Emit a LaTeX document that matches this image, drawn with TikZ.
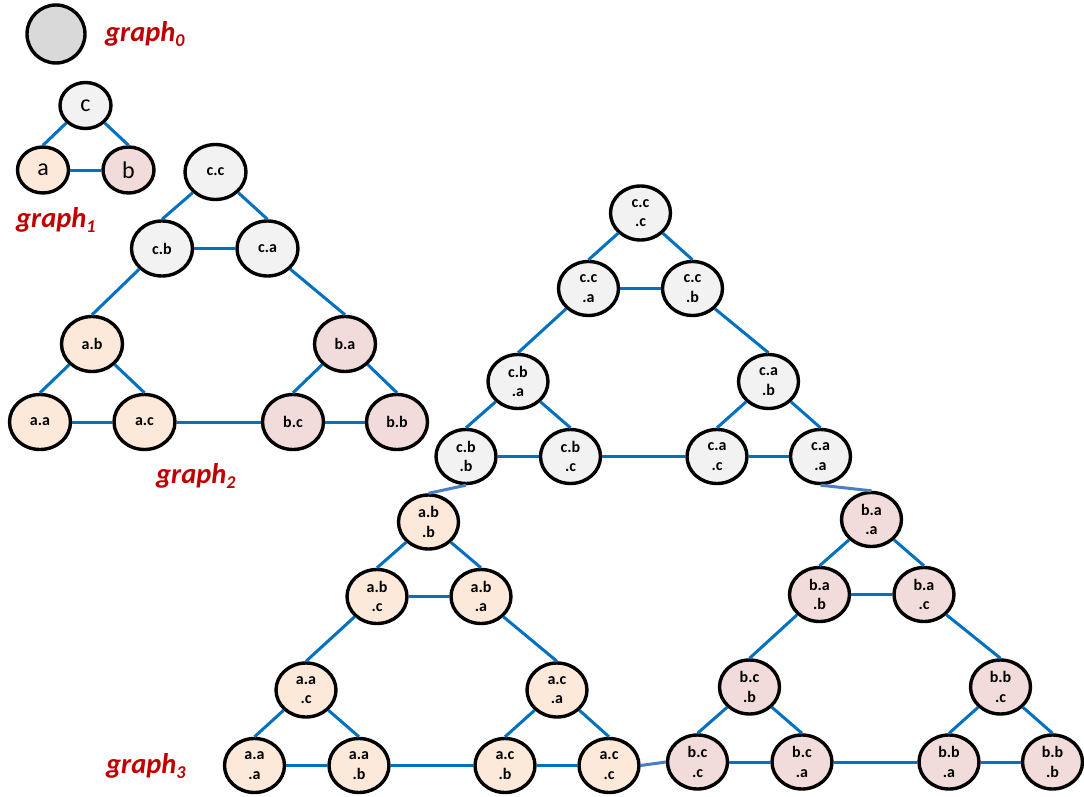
\documentclass[tikz,border=0pt]{standalone}
\usepackage{fontspec}
\setmainfont{Carlito}
\usetikzlibrary{shapes.geometric}
\definecolor{edgeblue}{HTML}{0070C0}
\definecolor{crossblue}{HTML}{4A7EC4}
\definecolor{cfill}{HTML}{F2F2F2}
\definecolor{afill}{HTML}{FDE9D9}
\definecolor{bfill}{HTML}{F2DCDB}
\definecolor{zfill}{HTML}{D9D9D9}
\definecolor{lblred}{HTML}{C00000}
\newcommand\gsub[1]{\raisebox{-5pt}{\fontsize{18}{18}\selectfont #1}}
\begin{document}
\begin{tikzpicture}[x=1pt,y=-1pt,
 vtx/.style={ellipse, draw=black, line width=3.4pt, inner sep=0pt, align=center, font=\fontsize{16}{19.5}\selectfont\bfseries},
 gthree/.style={vtx, minimum width=60pt, minimum height=54pt},
 gtwo/.style={vtx, minimum width=61pt, minimum height=55pt},
 gone/.style={vtx, minimum width=51pt, minimum height=46pt, font=\fontsize{24}{24}\selectfont},
 cN/.style={fill=cfill}, aN/.style={fill=afill}, bN/.style={fill=bfill},
 edge/.style={draw=edgeblue, line width=3pt},
 cross/.style={draw=crossblue, line width=3pt},
 glabel/.style={anchor=base west, inner sep=0pt, text=lblred, font=\fontsize{28.5}{28.5}\selectfont\bfseries\itshape}]
\useasboundingbox (0,0) rectangle (1084,797);

% graph0
\node[circle, draw=black, line width=3.4pt, fill=zfill, minimum size=58pt, inner sep=0pt] (z) at (56,34) {};
\node[glabel] (l0) at (105,42) {graph\gsub{0}};

% graph1
\node[gone,cN] (c) at (85.5,105.5) {c};
\node[gone,aN] (a) at (43,170) {a};
\node[gone,bN] (b) at (128.5,170) {b};
\draw[edge] (c.south west) -- (a.north);
\draw[edge] (c.south east) -- (b.north);
\draw[edge] (a.east) -- (b.west);
\node[glabel] (l1) at (16,227) {graph\gsub{1}};

% graph2
\node[gtwo,cN] (cc) at (215.5,172) {c.c};
\node[gtwo,cN] (cb) at (162,248.5) {c.b};
\node[gtwo,cN] (ca) at (267.5,248.5) {c.a};
\node[gtwo,aN] (ab) at (92,344) {a.b};
\node[gtwo,bN] (ba) at (345,344) {b.a};
\node[gtwo,aN] (aa) at (40,422) {a.a};
\node[gtwo,aN] (ac) at (144.5,422) {a.c};
\node[gtwo,bN] (bc) at (293,422) {b.c};
\node[gtwo,bN] (bb) at (397,422) {b.b};
\draw[edge] (cc.south west) -- (cb.north);
\draw[edge] (cc.south east) -- (ca.north);
\draw[edge] (cb.east) -- (ca.west);
\draw[edge] (cb.south west) -- (ab.north);
\draw[edge] (ca.south east) -- (ba.north);
\draw[edge] (ab.south west) -- (aa.north);
\draw[edge] (ab.south east) -- (ac.north);
\draw[edge] (aa.east) -- (ac.west);
\draw[edge] (ac.east) -- (bc.west);
\draw[edge] (ba.south west) -- (bc.north);
\draw[edge] (ba.south east) -- (bb.north);
\draw[edge] (bc.east) -- (bb.west);
\node[glabel] (l2) at (156,483) {graph\gsub{2}};

% graph3 - c part
\node[gthree,cN] (ccc) at (640.5,213) {c.c\\.c};
\node[gthree,cN] (cca) at (588.5,288.5) {c.c\\.a};
\node[gthree,cN] (ccb) at (692.5,288.5) {c.c\\.b};
\node[gthree,cN] (cba) at (518,381.5) {c.b\\.a};
\node[gthree,cN] (cab) at (768.5,381.5) {c.a\\.b};
\node[gthree,cN] (cbb) at (466,456.5) {c.b\\.b};
\node[gthree,cN] (cbc) at (570.5,456.5) {c.b\\.c};
\node[gthree,cN] (cac) at (717,456.5) {c.a\\.c};
\node[gthree,cN] (caa) at (820.5,456.5) {c.a\\.a};
% a part
\node[gthree,aN] (abb) at (428.5,522) {a.b\\.b};
\node[gthree,aN] (abc) at (377,596.5) {a.b\\.c};
\node[gthree,aN] (aba) at (481,596.5) {a.b\\.a};
\node[gthree,aN] (aac) at (306,690) {a.a\\.c};
\node[gthree,aN] (aca) at (557,690) {a.c\\.a};
\node[gthree,aN] (aaa) at (254.5,765.5) {a.a\\.a};
\node[gthree,aN] (aab) at (359,765.5) {a.a\\.b};
\node[gthree,aN] (acb) at (505,765.5) {a.c\\.b};
\node[gthree,aN] (acc) at (609,765.5) {a.c\\.c};
% b part
\node[gthree,bN] (baa) at (871.5,519.5) {b.a\\.a};
\node[gthree,bN] (bab) at (819.5,594.5) {b.a\\.b};
\node[gthree,bN] (bac) at (924,594.5) {b.a\\.c};
\node[gthree,bN] (bcb) at (749.5,687) {b.c\\.b};
\node[gthree,bN] (bbc) at (1000.5,687) {b.b\\.c};
\node[gthree,bN] (bcc) at (697.5,762) {b.c\\.c};
\node[gthree,bN] (bca) at (802,762) {b.c\\.a};
\node[gthree,bN] (bba) at (949,762) {b.b\\.a};
\node[gthree,bN] (bbb) at (1052.5,762) {b.b\\.b};

% c edges
\draw[edge] (ccc.south west) -- (cca.north);
\draw[edge] (ccc.south east) -- (ccb.north);
\draw[edge] (cca.east) -- (ccb.west);
\draw[edge] (cca.south west) -- (cba.north);
\draw[edge] (ccb.south east) -- (cab.north);
\draw[edge] (cba.south west) -- (cbb.north);
\draw[edge] (cba.south east) -- (cbc.north);
\draw[edge] (cbb.east) -- (cbc.west);
\draw[edge] (cbc.east) -- (cac.west);
\draw[edge] (cab.south west) -- (cac.north);
\draw[edge] (cab.south east) -- (caa.north);
\draw[edge] (cac.east) -- (caa.west);
% a edges
\draw[edge] (abb.south west) -- (abc.north);
\draw[edge] (abb.south east) -- (aba.north);
\draw[edge] (abc.east) -- (aba.west);
\draw[edge] (abc.south west) -- (aac.north);
\draw[edge] (aba.south east) -- (aca.north);
\draw[edge] (aac.south west) -- (aaa.north);
\draw[edge] (aac.south east) -- (aab.north);
\draw[edge] (aaa.east) -- (aab.west);
\draw[edge] (aab.east) -- (acb.west);
\draw[edge] (aca.south west) -- (acb.north);
\draw[edge] (aca.south east) -- (acc.north);
\draw[edge] (acb.east) -- (acc.west);
% b edges
\draw[edge] (baa.south west) -- (bab.north);
\draw[edge] (baa.south east) -- (bac.north);
\draw[edge] (bab.east) -- (bac.west);
\draw[edge] (bab.south west) -- (bcb.north);
\draw[edge] (bac.south east) -- (bbc.north);
\draw[edge] (bcb.south west) -- (bcc.north);
\draw[edge] (bcb.south east) -- (bca.north);
\draw[edge] (bcc.east) -- (bca.west);
\draw[edge] (bca.east) -- (bba.west);
\draw[edge] (bbc.south west) -- (bba.north);
\draw[edge] (bbc.south east) -- (bbb.north);
\draw[edge] (bba.east) -- (bbb.west);
% cross connectors
\draw[cross] (cbb.south) -- (abb.north);
\draw[cross] (caa.south) -- (baa.north);
\draw[cross] (acc.east) -- (bcc.west);

\node[glabel] (l3) at (106,773) {graph\gsub{3}};
\end{tikzpicture}
\end{document}
